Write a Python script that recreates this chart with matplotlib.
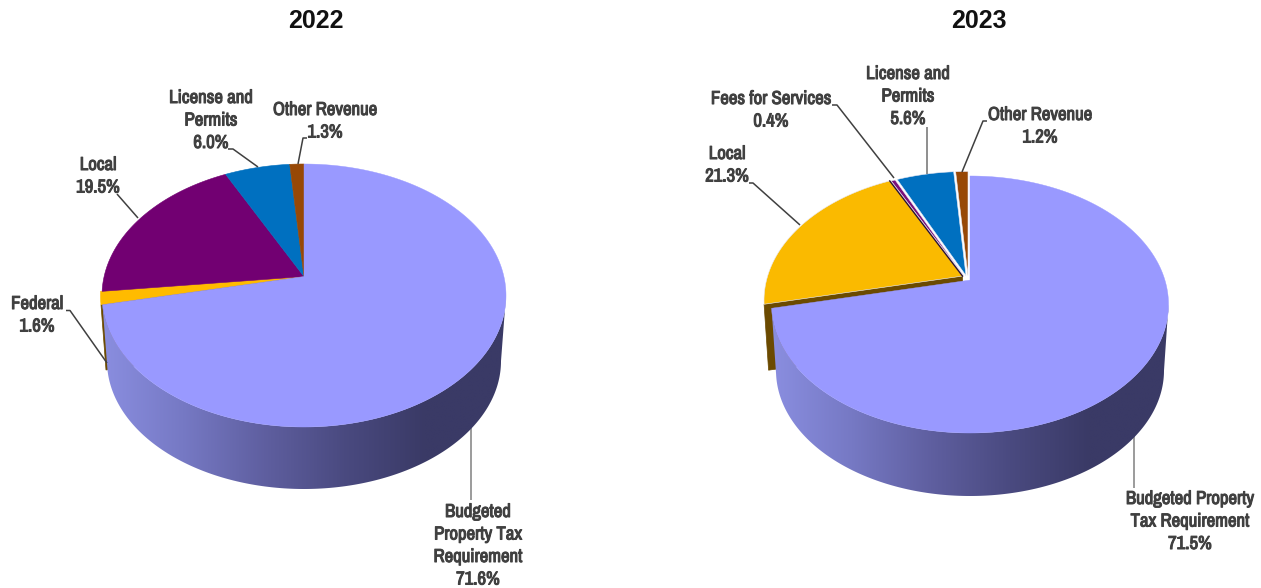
import numpy as np
import matplotlib
matplotlib.use("Agg")
import matplotlib.pyplot as plt
import matplotlib.patheffects as pe
from matplotlib import font_manager as fm
from matplotlib.colors import LinearSegmentedColormap
from matplotlib.patches import Polygon

W, H = 1261, 588

# ---- data ----
labels_2022 = ["Budgeted\nProperty Tax\nRequirement", "Federal", "Local", "License and\nPermits", "Other Revenue"]
values_2022 = [71.6, 1.6, 19.5, 6.0, 1.3]
labels_2023 = ["Budgeted Property\nTax Requirement", "Local", "Fees for Services", "License and\nPermits", "Other Revenue"]
values_2023 = [71.5, 21.3, 0.4, 5.6, 1.2]
years = ["2022", "2023"]

# ---- styles ----
colors_2022 = ["#9999FF", "#FFBB00", "#720072", "#0070C0", "#974806"]
colors_2023 = ["#9999FF", "#FABA00", "#7A0F7A", "#0070C0", "#974806"]
offsets_2022 = [(0, 0), (-1.5, 0), (0, 0), (0, 0), (0, 0)]
offsets_2023 = [(0, 0), (-7.5, -4), (-6, -4), (-4, -4.5), (-2, -4.5)]
geom_2022 = dict(cx=304, rx=202, cy=295.5, ry=131.5, rx2=197, cy2=361, ry2=128, a=0.144)
geom_2023 = dict(cx=970, rx=198.5, cy=304.5, ry=128.5, rx2=194, cy2=370.5, ry2=125.5, a=0.19)
label_pos_2022 = [(478, 512), (37, 304), (98, 165), (211, 98), (325, 110)]
label_pos_2023 = [(1190, 499), (727, 154), (771, 99), (908, 74), (1040, 115)]
leaders_2022 = [
    ([471, 471], [427, 500], "#808080"),
    ([66, 70, 107], [310.5, 310.5, 363], "#404040"),
    ([117, 138], [194, 218], "#404040"),
    ([228, 233, 258], [149, 149, 167], "#404040"),
    ([307, 303, 298], [138, 138, 164], "#404040"),
]
leaders_2023 = [
    ([1134, 1134], [432, 488], "#808080"),
    ([749, 753, 800], [183, 183, 225], "#404040"),
    ([832, 837, 894], [105, 105, 178], "#404040"),
    ([927, 927], [127, 174], "#707070"),
    ([987, 983, 962], [121, 121, 172], "#404040"),
]
side_cmap = LinearSegmentedColormap.from_list(
    "side", ["#8A8EE0", "#7679C4", "#5F5FA0", "#4A4A80", "#3A3A66", "#3A3A66"])
dark_face = "#6B4A00"

LINE_H = 22.5
installed = {f.name for f in fm.fontManager.ttflist}
FONT = next((n for n in ["Archivo Narrow", "Liberation Sans Narrow", "Roboto Condensed",
                         "PT Sans Narrow", "IBM Plex Sans Condensed", "Liberation Sans"]
             if n in installed), "DejaVu Sans")
BOLDEN = [pe.withStroke(linewidth=0.75, foreground="#404040")]

fig = plt.figure(figsize=(W / 100, H / 100), dpi=100)
ax = fig.add_axes([0, 0, 1, 1])
ax.set_xlim(0, W)
ax.set_ylim(H, 0)
ax.axis("off")


def project(u, v, g, bottom=False):
    a = g["a"]
    d = 1 + a * v
    X = u * np.sqrt(1 - a * a) / d
    Y = (v + a) / d
    if bottom:
        return g["cx"] + g["rx2"] * X, g["cy2"] - g["ry2"] * Y
    return g["cx"] + g["rx"] * X, g["cy"] - g["ry"] * Y


def rim(f, g, bottom=False):
    """Perspective mapping of a position on the disc to figure coordinates."""
    ang = np.radians(90 - 360 * np.asarray(f, float))
    return project(np.cos(ang), np.sin(ang), g, bottom)


def draw_pie(values, colors, labels, offsets, g, label_pos, leaders, year, title_x):
    fr = np.cumsum([0] + list(values)) / sum(values)
    ap_t = project(0.0, 0.0, g)
    ap_b = project(0.0, 0.0, g, True)
    # dark cut face of the slice adjoining the main slice
    f0 = fr[1]
    dx, dy = offsets[1]
    rx_t, ry_t = rim(f0, g)
    rx_b, ry_b = rim(f0, g, True)
    ax.add_patch(Polygon([(ap_t[0] + dx, ap_t[1] + dy), (rx_t + dx, ry_t + dy),
                          (rx_b + dx, ry_b + dy), (ap_b[0] + dx, ap_b[1] + dy)],
                         closed=True, fc=dark_face, ec=dark_face, lw=0.5, zorder=1))
    for i in range(1, len(values)):
        f = np.linspace(fr[i], fr[i + 1], 60)
        x, y = rim(f, g)
        dx, dy = offsets[i]
        xs = np.r_[ap_t[0], x] + dx
        ys = np.r_[ap_t[1], y] + dy
        ax.fill(xs, ys, fc=colors[i], ec="#e8e8f4" if g is geom_2023 else colors[i],
                lw=0.4, zorder=2)
        if g is geom_2023 and i == 1:
            ax.plot([xs[0], xs[-1]], [ys[0], ys[-1]], color="#2a1030", lw=1.0, zorder=2.5)
    # side wall of the main slice, gradient clipped by the band
    f = np.linspace(0.25 + np.arcsin(g["a"]) / (2 * np.pi), fr[1], 300)
    xt, yt = rim(f, g)
    xb, yb = rim(f, g, True)
    band = Polygon(np.c_[np.r_[xt, xb[::-1]], np.r_[yt, yb[::-1]]], closed=True, fc="none", ec="none",
                   transform=ax.transData)
    ax.add_patch(band)
    grad = np.linspace(0, 1, 256)[None, :]
    xl = g["cx"] - g["rx"]
    xr = g["cx"] + g["rx"]
    im = ax.imshow(grad, extent=[xl, xr, g["cy2"] + g["ry2"] + 5, g["cy"] - 10], cmap=side_cmap,
                   aspect="auto", zorder=3, interpolation="bilinear")
    im.set_clip_path(band)
    ax.set_xlim(0, W)
    ax.set_ylim(H, 0)
    # top of main slice
    f = np.linspace(fr[0], fr[1], 400)
    x, y = rim(f, g)
    ax.fill(np.r_[ap_t[0], x], np.r_[ap_t[1], y], fc=colors[0], ec=colors[0], lw=0.3, zorder=4)

    for (lx, ly, c) in leaders:
        ax.plot(lx, ly, color=c, lw=1.1, zorder=1.5 if c == "#808080" else 5, solid_capstyle="butt")
    for lab, val, (px, py) in zip(labels, values, label_pos):
        lines = lab.split("\n") + [f"{val:.1f}%"]
        for k, line in enumerate(lines):
            ax.text(px, py + k * LINE_H, line, family=FONT, weight="bold", fontsize=13.5,
                    color="#404040", ha="center", va="center", zorder=6, path_effects=BOLDEN)
    ax.text(title_x, 21.5, year, family="Liberation Sans", weight="bold", fontsize=18, color="#111111",
            ha="center", va="center", zorder=6)


draw_pie(values_2022, colors_2022, labels_2022, offsets_2022, geom_2022,
         label_pos_2022, leaders_2022, years[0], 316)
draw_pie(values_2023, colors_2023, labels_2023, offsets_2023, geom_2023,
         label_pos_2023, leaders_2023, years[1], 979)

fig.savefig("out.png", dpi=100, facecolor="white")
